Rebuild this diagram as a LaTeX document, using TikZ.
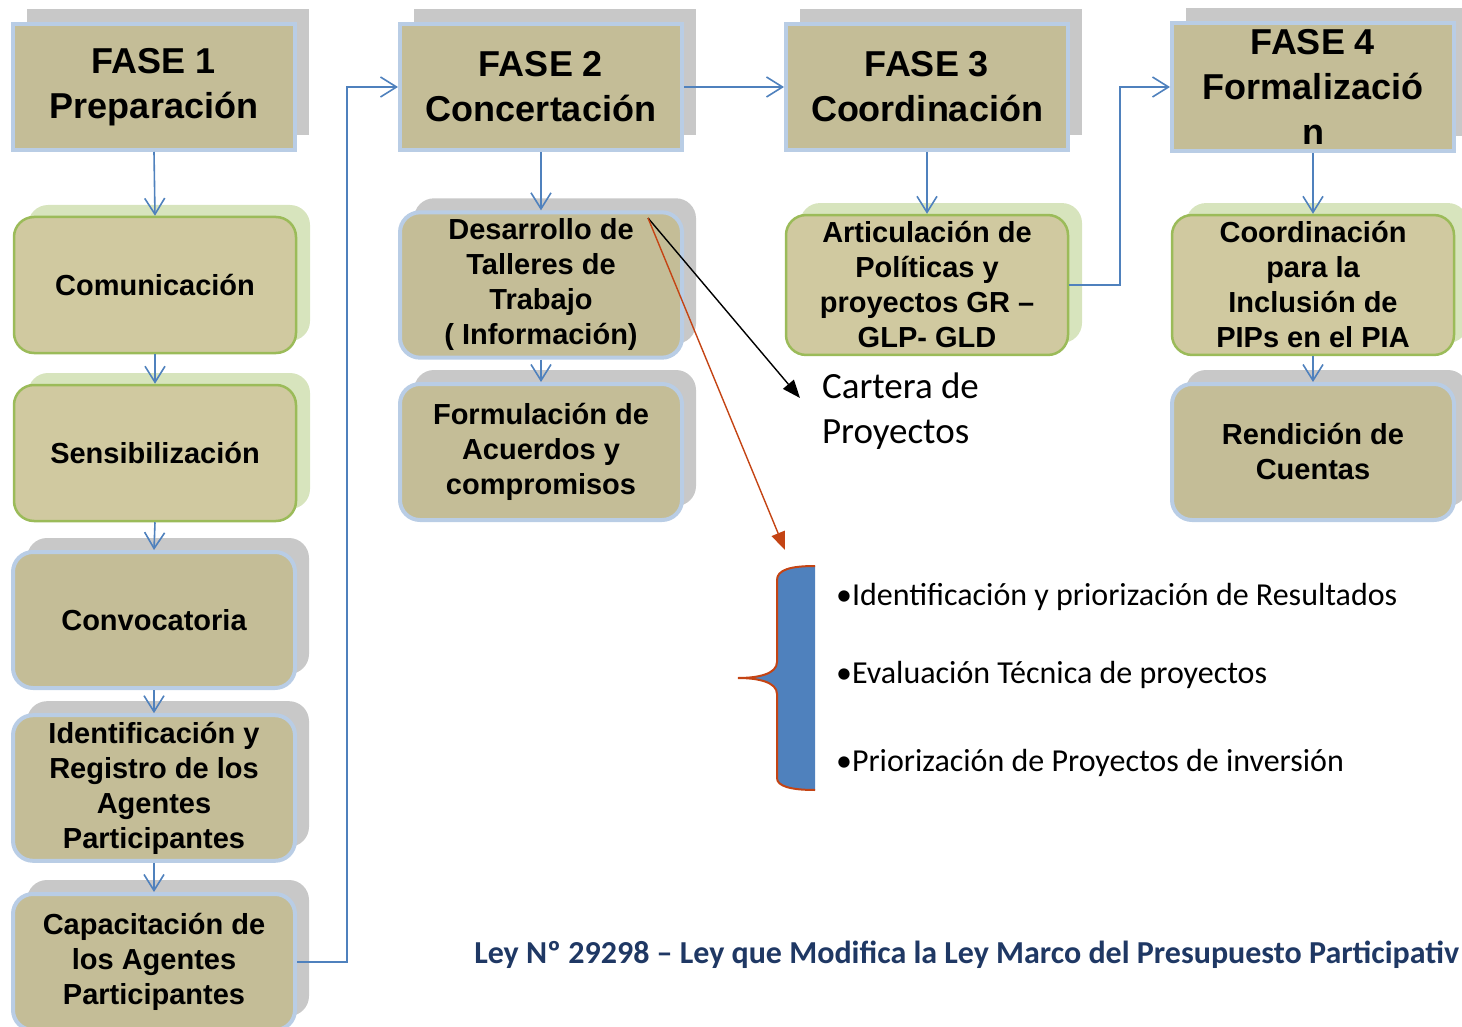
\documentclass[tikz,border=0pt]{standalone}
\usepackage{fontspec}
\setmainfont{Liberation Sans}
\newfontfamily\calfont{Carlito}
\usetikzlibrary{arrows.meta,shadows,calc}
\definecolor{tanfill}{RGB}{196,189,151}
\definecolor{tanlight}{RGB}{208,201,160}
\definecolor{bordblue}{RGB}{185,205,229}
\definecolor{bordgreen}{RGB}{155,187,89}
\definecolor{shgray}{RGB}{200,200,200}
\definecolor{shgreen}{RGB}{215,228,189}
\definecolor{arrowblue}{RGB}{79,129,189}
\definecolor{bracered}{RGB}{196,68,20}
\definecolor{lawblue}{RGB}{31,56,100}
\begin{document}
\begin{tikzpicture}[x=0.5pt,y=-0.5pt,
  phase/.style={draw=bordblue, line width=2pt, fill=tanfill, minimum width=141pt, minimum height=63pt,
    align=center, font=\fontsize{18}{22.5}\selectfont\bfseries,
    general shadow={fill=shgray, shadow xshift=7pt, shadow yshift=7.5pt}},
  subbase/.style={rounded corners=10pt, minimum width=141pt, minimum height=68pt, align=center,
    font=\fontsize{14.5}{17.5}\selectfont\bfseries},
  greenbox/.style={subbase, draw=bordgreen, line width=1.25pt, fill=tanlight,
    general shadow={fill=shgreen, shadow xshift=7pt, shadow yshift=6pt}},
  bluebox/.style={subbase, draw=bordblue, line width=2pt, fill=tanfill,
    general shadow={fill=shgray, shadow xshift=7pt, shadow yshift=7pt}},
  flow/.style={draw=arrowblue, line width=0.8pt, -{Straight Barb[length=8pt,width=10pt]}},
  note/.style={font=\calfont\fontsize{18.5}{22.5}\selectfont, align=left, anchor=west},
  bullet/.style={font=\calfont\fontsize{16}{19}\selectfont, anchor=west}
]
\useasboundingbox (0,0) rectangle (1462,1027);

% phase headers
\node[phase] (f1) at (154,87) {FASE 1\\Preparación};
\node[phase] (f2) at (541,87) {FASE 2\\Concertación};
\node[phase] (f3) at (927,87) {FASE 3\\Coordinación};
\node[phase] (f4) at (1313,87) {FASE 4\\Formalizació\\n};

% column 1
\node[greenbox] (com) at (155,285) {Comunicación};
\node[greenbox] (sen) at (155,453) {Sensibilización};
\node[bluebox] (conv) at (154,620) {Convocatoria};
\node[bluebox] (ide) at (154,788) {Identificación y\\Registro de los\\Agentes\\Participantes};
\node[bluebox] (cap) at (154,962) {Capacitación de\\los Agentes\\Participantes};

% column 2
\node[bluebox] (dev) at (541,285) {Desarrollo de\\Talleres de\\Trabajo\\( Información)};
\node[bluebox] (form) at (541,452) {Formulación de\\Acuerdos y\\compromisos};

% column 3
\node[greenbox] (art) at (927,285) {Articulación de\\Políticas y\\proyectos GR –\\GLP- GLD};

% column 4
\node[greenbox] (coo) at (1313,285) {Coordinación\\para la\\Inclusión de\\PIPs en el PIA};
\node[bluebox] (ren) at (1313,452) {Rendición de\\Cuentas};

% vertical flows
\draw[flow] (f1.south) -- (com.north);
\draw[flow] (com.south) -- (sen.north);
\draw[flow] (sen.south) -- (conv.north);
\draw[flow] (conv.south) -- (ide.north);
\draw[flow] (ide.south) -- (cap.north);
\draw[flow] (f2.south) -- (dev.north);
\draw[flow] (dev.south) -- (form.north);
\draw[flow] (f3.south) -- (art.north);
\draw[flow] (f4.south) -- (coo.north);
\draw[flow] (coo.south) -- (ren.north);

% phase links
\coordinate (j1) at (347,0);
\coordinate (j2) at (1120,0);
\draw[flow] (cap.east) -- (cap.east -| j1) |- (f2.west);
\draw[flow] (f2.east) -- (f3.west);
\draw[flow] (art.east) -- (art.east -| j2) |- (f4.west);

% notes
\node[note] (cart) at (815,411) {Cartera de\\Proyectos};
\coordinate (d0) at (648,218);
\coordinate (ct) at (800,398);
\coordinate (bt) at (785,550);
\draw[line width=0.7pt, -{Triangle[length=9pt,width=7pt]}] (d0) -- (ct);
\draw[bracered, line width=0.7pt, -{Triangle[length=9pt,width=7pt]}] (d0) -- (bt);

% brace
\fill[arrowblue] (815,566) .. controls (790,566) and (777,570) .. (777,580) -- (777,662)
  .. controls (777,674) and (758,678) .. (738,678) .. controls (758,678) and (777,682) .. (777,694)
  -- (777,778) .. controls (777,786) and (790,790) .. (815,790) -- cycle;
\draw[bracered, line width=1pt] (815,566) .. controls (790,566) and (777,570) .. (777,580) -- (777,662)
  .. controls (777,674) and (758,678) .. (738,678) .. controls (758,678) and (777,682) .. (777,694)
  -- (777,778) .. controls (777,786) and (790,790) .. (815,790);

\node[bullet] (b1) at (829,597) {•Identificación y priorización de Resultados};
\node[bullet] (b2) at (829,675) {•Evaluación Técnica de proyectos};
\node[bullet] (b3) at (829,763) {•Priorización de Proyectos de inversión};

% law
\node[anchor=west, text=lawblue, font=\calfont\bfseries\fontsize{16}{19}\selectfont, inner sep=0pt] (law) at (474,955)
  {Ley Nº 29298 – Ley que Modifica la Ley Marco del Presupuesto Participativ};
\end{tikzpicture}
\end{document}
